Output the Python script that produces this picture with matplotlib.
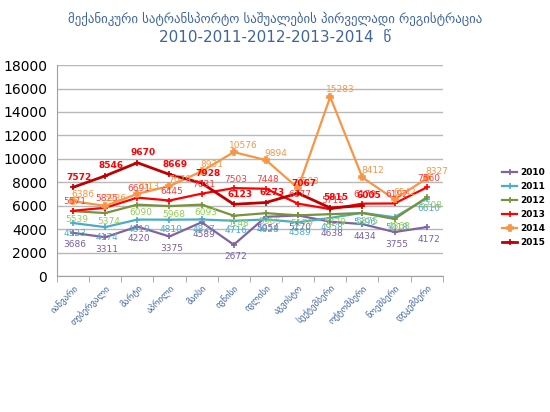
import matplotlib.pyplot as plt

months = ['იანვარი', 'თებერვალი', 'მარტი', 'აპრილი', 'მაისი', 'ივნისი',
          'ივლისი', 'აგვისტო', 'სექტემბერი', 'ოქტომბერი', 'ნოემბერი', 'დეკემბერი']

v2010 = [3686, 3311, 4220, 3375, 4589, 2672, 5054, 5170, 4638, 4434, 3755, 4172]
v2011 = [4523, 4174, 4819, 4810, 4827, 4716, 4828, 4589, 4958, 5396, 5018, 6610]
v2012 = [5539, 5374, 6090, 5968, 6093, 5148, 5365, 5179, 5279, 5375, 4868, 6708]
v2013 = [5571, 5825, 6691, 6445, 7031, 7503, 7448, 6177, 5712, 6179, 6192, 7560]
v2014 = [6386, 5986, 7013, 7679, 8931, 10576, 9894, 7503, 15283, 8412, 6542, 8327]
v2015 = [7572, 8546, 9670, 8669, 7928, 6123, 6273, 7067, 5815, 6005]

years = ['2010', '2011', '2012', '2013', '2014', '2015']

title1 = 'მექანიკური სატრანსპორტო საშუალების პირველადი რეგისტრაცია'
title2 = '2010-2011-2012-2013-2014  წ'

# style per series: line colour, label colour, marker, marker size, label offset (px), bold labels, line width
styles = {
    '2010': ('#8064a2', '#7a5ea6', '+', 4, (2, -12), False, 1.6),
    '2011': ('#4bacc6', '#4bacc6', '+', 4, (2, -10), False, 1.6),
    '2012': ('#77933c', '#92d050', '+', 4, (4, -8), False, 1.6),
    '2013': ('#ff0000', '#ff3b3b', '+', 4, (2, 9), False, 1.6),
    '2014': ('#f79646', '#f79646', 'P', 4.5, (10, 7), False, 1.6),
    '2015': ('#c00000', '#ff0000', '+', 4, (6, 10), True, 2.0),
}
series = [v2010, v2011, v2012, v2013, v2014, v2015]

fig = plt.figure(figsize=(5.5, 4.12), dpi=100)
ax = fig.add_axes([0.1036, 0.330, 0.7014, 0.512])

for name, vals in zip(years, series):
    lc, tc, mk, ms, off, bold, lw = styles[name]
    x = list(range(len(vals)))
    ax.plot(x, vals, color=lc, marker=mk, markersize=ms, markeredgewidth=1.2,
            linewidth=lw, label=name)
    for xi, v in zip(x, vals):
        ax.annotate(str(v), (xi, v), xytext=off, textcoords='offset pixels',
                    ha='center', va='center', fontsize=6.5, color=tc,
                    fontweight='bold' if bold else 'normal')

ax.set_xlim(-0.5, 11.5)
ax.set_ylim(0, 18000)
ax.set_yticks(range(0, 18001, 2000))
ax.tick_params(axis='y', length=0, labelsize=10, pad=7)
ax.yaxis.grid(True, color='#b8b8b8', linewidth=1)
ax.set_axisbelow(True)

ax.set_xticks(range(12))
ax.set_xticklabels(months, rotation=45, ha='right', rotation_mode='anchor',
                   fontsize=6.5, color='#3e64a0')
ax.tick_params(axis='x', length=0, pad=5)
ax.set_xticks([i - 0.5 for i in range(13)], minor=True)
ax.tick_params(axis='x', which='minor', length=4, color='#a0a0a0')

for s in ['top', 'right']:
    ax.spines[s].set_visible(False)
ax.spines['left'].set_color('#a0a0a0')
ax.spines['bottom'].set_color('#a0a0a0')

fig.text(0.5, 0.955, title1, ha='center', va='center', fontsize=9.3, color='#3e64a0')
fig.text(0.5, 0.91, title2, ha='center', va='center', fontsize=11, color='#3e64a0')

fig.legend(loc='upper left', bbox_to_anchor=(0.898, 0.612), frameon=False,
           prop={'size': 6.5, 'weight': 'bold'}, handlelength=1.7,
           labelspacing=0.55, handletextpad=0.3)

fig.savefig('out.png', dpi=100)
